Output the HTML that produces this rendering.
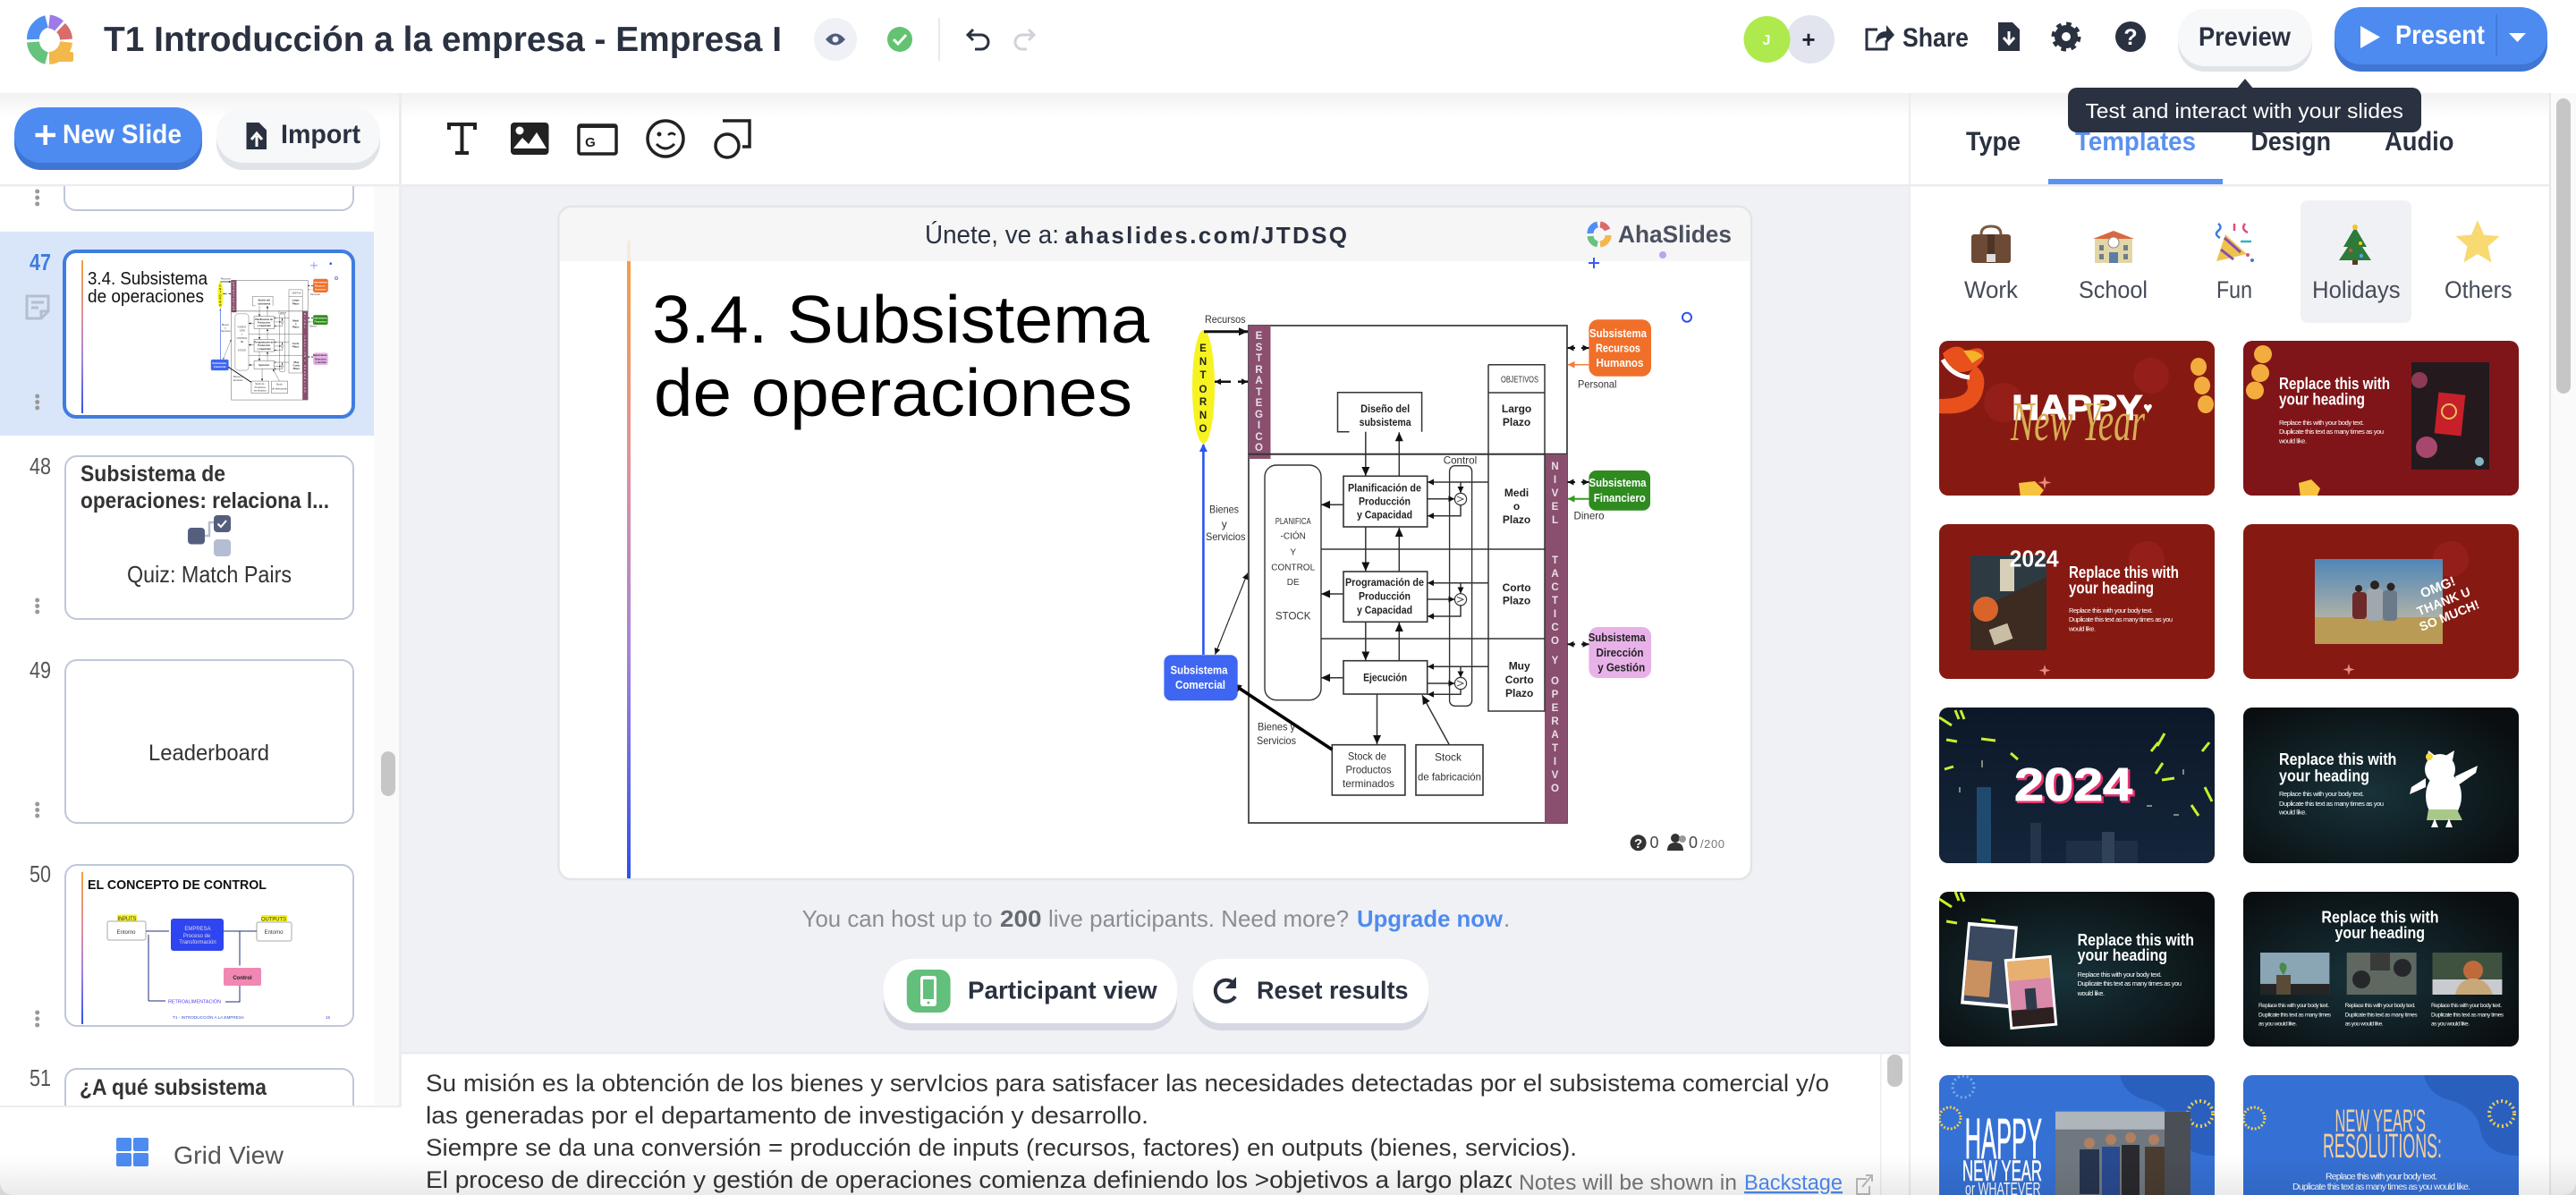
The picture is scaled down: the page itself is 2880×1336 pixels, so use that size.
<!DOCTYPE html>
<html lang="es"><head><meta charset="utf-8"><title>AhaSlides editor</title>
<style>
html,body{margin:0;padding:0;background:#fff;width:2880px;height:1336px;overflow:hidden}
svg{display:block;font-family:"Liberation Sans","DejaVu Sans",sans-serif}
.d{font-size:12px;fill:#333}
.db{font-size:12px;font-weight:bold;fill:#222;text-anchor:middle}
.dc{font-size:12px;fill:#333;text-anchor:middle}
.ds{font-size:10px;fill:#333;text-anchor:middle}
.w{font-size:13px;font-weight:bold;fill:#fff;text-anchor:middle}
.le{font-size:11.5px;font-weight:bold;fill:#e9dfe6;text-anchor:middle}
.en{font-size:11.5px;font-weight:bold;fill:#222;text-anchor:middle}
.ln{stroke:#333;stroke-width:1.5;fill:none}
.box{stroke:#333;stroke-width:1.6;fill:#fff}
.h{font-size:18px;font-weight:bold;fill:#fff}
.bd{font-size:7.5px;fill:#fff}
.nt{font-size:27px;fill:#333}
.tab{font-size:30px;font-weight:bold;fill:#2a3140}
.cat{font-size:27px;fill:#454b57}
.num{font-size:26px;fill:#555}
</style></head>
<body>
<svg xmlns="http://www.w3.org/2000/svg" width="2880" height="1336" viewBox="0 0 2880 1336">
<defs>
<marker id="a" markerUnits="userSpaceOnUse" markerWidth="10" markerHeight="10" refX="10" refY="5" orient="auto"><path d="M0,0.5L10,5L0,9.5z" fill="#111"/></marker>
<marker id="as" markerUnits="userSpaceOnUse" markerWidth="7" markerHeight="7" refX="7" refY="3.5" orient="auto"><path d="M0,0L7,3.5L0,7z" fill="#111"/></marker>
<marker id="ab" markerUnits="userSpaceOnUse" markerWidth="9" markerHeight="9" refX="8" refY="4.5" orient="auto"><path d="M0,0L9,4.5L0,9z" fill="#2a55f0"/></marker>
<marker id="ao" markerUnits="userSpaceOnUse" markerWidth="8" markerHeight="8" refX="8" refY="4" orient="auto"><path d="M0,0L8,4L0,8z" fill="#f08040"/></marker>
<marker id="ag" markerUnits="userSpaceOnUse" markerWidth="8" markerHeight="8" refX="8" refY="4" orient="auto"><path d="M0,0L8,4L0,8z" fill="#3a9a28"/></marker>
<linearGradient id="gl" x1="0" y1="0" x2="0" y2="1"><stop offset="0" stop-color="#f5a03c"/><stop offset=".35" stop-color="#e2919b"/><stop offset=".65" stop-color="#a583dc"/><stop offset="1" stop-color="#2f50ee"/></linearGradient>
<linearGradient id="hs" x1="0" y1="0" x2="0" y2="1"><stop offset="0" stop-color="#f1f1f2"/><stop offset="1" stop-color="#fff"/></linearGradient>
<linearGradient id="fd" x1="0" y1="0" x2="0" y2="1"><stop offset="0" stop-color="#000" stop-opacity="0"/><stop offset="1" stop-color="#000" stop-opacity=".08"/></linearGradient>
<linearGradient id="sky" x1="0" y1="0" x2="0" y2="1"><stop offset="0" stop-color="#4f86b8"/><stop offset="1" stop-color="#d8c4a0"/></linearGradient>
<radialGradient id="teal" cx=".45" cy=".55" r=".65"><stop offset="0" stop-color="#17333a"/><stop offset="1" stop-color="#0a0e10"/></radialGradient>
<linearGradient id="navy" x1="0" y1="0" x2="0" y2="1"><stop offset="0" stop-color="#0c1828"/><stop offset="1" stop-color="#14253a"/></linearGradient>
<clipPath id="c1"><rect x="2168" y="381" width="308" height="173" rx="10"/></clipPath>
<clipPath id="c2"><rect x="2508" y="381" width="308" height="173" rx="10"/></clipPath>
<clipPath id="c3"><rect x="2168" y="586" width="308" height="173" rx="10"/></clipPath>
<clipPath id="c4"><rect x="2508" y="586" width="308" height="173" rx="10"/></clipPath>
<clipPath id="c5"><rect x="2168" y="791" width="308" height="174" rx="10"/></clipPath>
<clipPath id="c6"><rect x="2508" y="791" width="308" height="174" rx="10"/></clipPath>
<clipPath id="c7"><rect x="2168" y="997" width="308" height="173" rx="10"/></clipPath>
<clipPath id="c8"><rect x="2508" y="997" width="308" height="173" rx="10"/></clipPath>
<clipPath id="c9"><rect x="2168" y="1202" width="308" height="173" rx="10"/></clipPath>
<clipPath id="c10"><rect x="2508" y="1202" width="308" height="173" rx="10"/></clipPath>
<clipPath id="cn"><rect x="452" y="1180" width="1238" height="156"/></clipPath>
<clipPath id="cl"><rect x="0" y="208" width="418" height="1029"/></clipPath>

<g id="diag">
<rect x="1396" y="364" width="356" height="556" fill="#fff" stroke="#444" stroke-width="1.8"/>
<rect x="1396" y="364" width="24.5" height="149" fill="#8a4f6e"/>
<line x1="1396" y1="507.7" x2="1752" y2="507.7" stroke="#333" stroke-width="2"/>
<rect x="1727" y="508" width="25" height="412" fill="#8a4f6e"/>
<ellipse cx="1345.5" cy="432.5" rx="12.5" ry="63.5" fill="#f6f320"/>
<g class="en"><text class="en" x="1345" y="393">E</text><text class="en" x="1345" y="408">N</text><text class="en" x="1345" y="423">T</text><text class="en" x="1345" y="439">O</text><text class="en" x="1345" y="453">R</text><text class="en" x="1345" y="468">N</text><text class="en" x="1345" y="483">O</text></g>
<g><text class="le" x="1407.5" y="379">E</text><text class="le" x="1407.5" y="392">S</text><text class="le" x="1407.5" y="404">T</text><text class="le" x="1407.5" y="417">R</text><text class="le" x="1407.5" y="429">A</text><text class="le" x="1407.5" y="442">T</text><text class="le" x="1407.5" y="454">E</text><text class="le" x="1407.5" y="467">G</text><text class="le" x="1407.5" y="479">I</text><text class="le" x="1407.5" y="492">C</text><text class="le" x="1407.5" y="504">O</text></g>
<g><text class="le" x="1738.5" y="525">N</text><text class="le" x="1738.5" y="540">I</text><text class="le" x="1738.5" y="555">V</text><text class="le" x="1738.5" y="570">E</text><text class="le" x="1738.5" y="585">L</text><text class="le" x="1738.5" y="630">T</text><text class="le" x="1738.5" y="645">A</text><text class="le" x="1738.5" y="660">C</text><text class="le" x="1738.5" y="675">T</text><text class="le" x="1738.5" y="690">I</text><text class="le" x="1738.5" y="705">C</text><text class="le" x="1738.5" y="720">O</text><text class="le" x="1738.5" y="742">Y</text><text class="le" x="1738.5" y="765">O</text><text class="le" x="1738.5" y="780">P</text><text class="le" x="1738.5" y="795">E</text><text class="le" x="1738.5" y="810">R</text><text class="le" x="1738.5" y="825">A</text><text class="le" x="1738.5" y="840">T</text><text class="le" x="1738.5" y="855">I</text><text class="le" x="1738.5" y="870">V</text><text class="le" x="1738.5" y="885">O</text></g>

<text class="d" x="1347" y="361" textLength="45.5" lengthAdjust="spacingAndGlyphs">Recursos</text>
<line x1="1346" y1="370.7" x2="1395" y2="370.7" stroke="#111" stroke-width="3" marker-end="url(#a)"/>
<line x1="1376" y1="426.7" x2="1358" y2="426.7" stroke="#111" stroke-width="2.5" marker-end="url(#as)"/>
<line x1="1384" y1="426.7" x2="1395" y2="426.7" stroke="#111" stroke-width="2.5" marker-end="url(#as)"/>

<path class="ln" d="M1664,407.7H1727V795H1664V407.7M1664,439H1727"/>
<text class="ds" x="1699" y="427.7" textLength="42" lengthAdjust="spacingAndGlyphs">OBJETIVOS</text>
<text class="db" x="1695.6" y="461">Largo</text><text class="db" x="1695.6" y="476">Plazo</text>
<text class="db" x="1695.6" y="555">Medi</text><text class="db" x="1695.6" y="570">o</text><text class="db" x="1695.6" y="585">Plazo</text>
<text class="db" x="1695.6" y="661">Corto</text><text class="db" x="1695.6" y="675.7">Plazo</text>
<text class="db" x="1698.7" y="748.7">Muy</text><text class="db" x="1698.7" y="764">Corto</text><text class="db" x="1698.7" y="779">Plazo</text>
<line class="ln" x1="1476.7" y1="614" x2="1727" y2="614"/><line class="ln" x1="1476.7" y1="714" x2="1727" y2="714"/>

<path class="ln" d="M1508.5,482.7H1495.5V438.7H1589.6V482.7"/>
<text class="db" x="1548.6" y="461" textLength="55" lengthAdjust="spacingAndGlyphs">Diseño del</text>
<text class="db" x="1548.6" y="476" textLength="58" lengthAdjust="spacingAndGlyphs">subsistema</text>
<line class="ln" x1="1526.8" y1="482.7" x2="1526.8" y2="532" marker-end="url(#a)"/>
<line class="ln" x1="1564.3" y1="532.3" x2="1564.3" y2="483.3" marker-end="url(#a)"/>

<rect x="1414" y="520" width="63" height="262.7" rx="13" fill="#fff" stroke="#333" stroke-width="1.4"/>
<text class="ds" x="1445.7" y="586" textLength="40" lengthAdjust="spacingAndGlyphs">PLANIFICA</text>
<text class="ds" x="1445.7" y="602.3">-CIÓN</text><text class="ds" x="1445.7" y="620.3">Y</text>
<text class="ds" x="1445.7" y="637.3">CONTROL</text><text class="ds" x="1445.7" y="654">DE</text>
<text class="dc" x="1445.7" y="692.3" style="font-size:11.5px">STOCK</text>

<rect x="1620.6" y="520.7" width="25" height="268.6" rx="6" fill="none" stroke="#333" stroke-width="1.4"/>
<text class="d" x="1613.7" y="518.7" textLength="37.5" lengthAdjust="spacingAndGlyphs">Control</text>

<rect class="box" x="1502" y="532.3" width="93.7" height="56.7"/>
<text class="db" x="1548" y="549.3" textLength="82" lengthAdjust="spacingAndGlyphs">Planificación de</text>
<text class="db" x="1548" y="564.7" textLength="58" lengthAdjust="spacingAndGlyphs">Producción</text>
<text class="db" x="1548" y="579.7" textLength="62" lengthAdjust="spacingAndGlyphs">y Capacidad</text>
<rect class="box" x="1502" y="639" width="93.7" height="56.3"/>
<text class="db" x="1548" y="655" textLength="88" lengthAdjust="spacingAndGlyphs">Programación de</text>
<text class="db" x="1548" y="670.7" textLength="58" lengthAdjust="spacingAndGlyphs">Producción</text>
<text class="db" x="1548" y="686" textLength="62" lengthAdjust="spacingAndGlyphs">y Capacidad</text>
<rect class="box" x="1502" y="738.7" width="93.7" height="37.3"/>
<text class="db" x="1548.6" y="761.3" textLength="49" lengthAdjust="spacingAndGlyphs">Ejecución</text>

<line class="ln" x1="1502" y1="564.3" x2="1477" y2="564.3" marker-end="url(#a)"/>
<line class="ln" x1="1502" y1="664" x2="1477" y2="664" marker-end="url(#a)"/>
<line class="ln" x1="1502" y1="757.7" x2="1477" y2="757.7" marker-end="url(#a)"/>
<line class="ln" x1="1526.8" y1="589" x2="1526.8" y2="638.5" marker-end="url(#a)"/>
<line class="ln" x1="1564.3" y1="639" x2="1564.3" y2="590" marker-end="url(#a)"/>
<line class="ln" x1="1526.8" y1="695.3" x2="1526.8" y2="738.3" marker-end="url(#a)"/>
<line class="ln" x1="1564.3" y1="738.7" x2="1564.3" y2="696" marker-end="url(#a)"/>

<line class="ln" x1="1664" y1="539" x2="1596" y2="539" marker-end="url(#as)"/>
<line class="ln" x1="1633" y1="539" x2="1633" y2="551" marker-end="url(#as)"/>
<line class="ln" x1="1596" y1="557.7" x2="1626.3" y2="557.7" marker-end="url(#as)"/>
<path class="ln" d="M1633,564.6V576.7H1603"/><line class="ln" x1="1604" y1="576.7" x2="1596" y2="576.7" marker-end="url(#as)"/>
<circle cx="1633" cy="558" r="6.6" fill="#fff" stroke="#333" stroke-width="1.2"/><path d="M1629,555l7,3l-7,3" fill="none" stroke="#333" stroke-width=".9"/>
<line class="ln" x1="1664" y1="651.7" x2="1596" y2="651.7" marker-end="url(#as)"/>
<line class="ln" x1="1633" y1="651.7" x2="1633" y2="663.5" marker-end="url(#as)"/>
<line class="ln" x1="1596" y1="670" x2="1626.3" y2="670" marker-end="url(#as)"/>
<path class="ln" d="M1633,677V689H1603"/><line class="ln" x1="1604" y1="689" x2="1596" y2="689" marker-end="url(#as)"/>
<circle cx="1633" cy="670.3" r="6.6" fill="#fff" stroke="#333" stroke-width="1.2"/><path d="M1629,667.3l7,3l-7,3" fill="none" stroke="#333" stroke-width=".9"/>
<line class="ln" x1="1664" y1="745.3" x2="1596" y2="745.3" marker-end="url(#as)"/>
<line class="ln" x1="1633" y1="745.3" x2="1633" y2="757.5" marker-end="url(#as)"/>
<line class="ln" x1="1596" y1="764" x2="1626.3" y2="764" marker-end="url(#as)"/>
<path class="ln" d="M1633,770.6V776.3H1603"/><line class="ln" x1="1604" y1="776.3" x2="1596" y2="776.3" marker-end="url(#as)"/>
<circle cx="1633" cy="764" r="6.6" fill="#fff" stroke="#333" stroke-width="1.2"/><path d="M1629,761l7,3l-7,3" fill="none" stroke="#333" stroke-width=".9"/>

<line class="ln" x1="1539.5" y1="776" x2="1539.5" y2="832" marker-end="url(#a)"/>
<line class="ln" x1="1620" y1="832" x2="1590" y2="777.3" marker-end="url(#a)"/>
<rect class="box" x="1489.3" y="832.7" width="81.6" height="56.3"/>
<text class="dc" x="1528.4" y="849.3" textLength="43" lengthAdjust="spacingAndGlyphs">Stock de</text>
<text class="dc" x="1530" y="864.7" textLength="51" lengthAdjust="spacingAndGlyphs">Productos</text>
<text class="dc" x="1530" y="880" textLength="58" lengthAdjust="spacingAndGlyphs">terminados</text>
<rect class="box" x="1583" y="832.7" width="75" height="56.3"/>
<text class="dc" x="1619" y="850.7">Stock</text>
<text class="dc" x="1620.5" y="872.7" textLength="71" lengthAdjust="spacingAndGlyphs">de fabricación</text>
<text class="d" x="1406" y="816.7" textLength="42" lengthAdjust="spacingAndGlyphs">Bienes y</text>
<text class="d" x="1405" y="832" textLength="44" lengthAdjust="spacingAndGlyphs">Servicios</text>
<line x1="1489.3" y1="838" x2="1378" y2="764.5" stroke="#000" stroke-width="3.6" marker-end="url(#a)"/>

<text class="d" x="1352" y="573.7" textLength="33" lengthAdjust="spacingAndGlyphs">Bienes</text>
<text class="dc" x="1368.8" y="590">y</text>
<text class="d" x="1348" y="604" textLength="44.5" lengthAdjust="spacingAndGlyphs">Servicios</text>
<line x1="1345.4" y1="732" x2="1345.4" y2="497" stroke="#2a55f0" stroke-width="2.6" marker-end="url(#ab)"/>
<line x1="1358.5" y1="731.7" x2="1394.8" y2="640.7" stroke="#222" stroke-width="1.1" stroke-dasharray="4 2.5" marker-end="url(#as)"/>
<line x1="1394.8" y1="640.7" x2="1358.5" y2="731.7" stroke="#222" stroke-width="1.1" stroke-dasharray="4 2.5" marker-end="url(#as)"/>
<rect x="1301.4" y="732.3" width="82.3" height="51" rx="8" fill="#3e66f2"/>
<text class="w" x="1340.5" y="753.3" textLength="64" lengthAdjust="spacingAndGlyphs">Subsistema</text>
<text class="w" x="1342" y="770" textLength="56" lengthAdjust="spacingAndGlyphs">Comercial</text>

<rect x="1776.4" y="357.3" width="69.6" height="63.4" rx="10" fill="#f0702a"/>
<text class="w" x="1809" y="377" textLength="64" lengthAdjust="spacingAndGlyphs">Subsistema</text>
<text class="w" x="1809" y="393.7" textLength="50" lengthAdjust="spacingAndGlyphs">Recursos</text>
<text class="w" x="1811" y="410" textLength="53" lengthAdjust="spacingAndGlyphs">Humanos</text>
<line x1="1761" y1="389" x2="1752.6" y2="389" stroke="#111" stroke-width="2" marker-end="url(#as)"/><line x1="1768" y1="389" x2="1776.4" y2="389" stroke="#111" stroke-width="2" marker-end="url(#as)"/>
<line x1="1776.4" y1="407.7" x2="1752.6" y2="407.7" stroke="#f08040" stroke-width="1.5" marker-end="url(#ao)"/>
<text class="d" x="1764" y="433.3" textLength="43.4" lengthAdjust="spacingAndGlyphs">Personal</text>
<rect x="1776.4" y="526" width="68.6" height="44.7" rx="8" fill="#2f8b1f"/>
<text class="w" x="1808.5" y="544" textLength="64" lengthAdjust="spacingAndGlyphs">Subsistema</text>
<text class="w" x="1810.8" y="561" textLength="58" lengthAdjust="spacingAndGlyphs">Financiero</text>
<line x1="1761" y1="539" x2="1752.6" y2="539" stroke="#111" stroke-width="2" marker-end="url(#as)"/><line x1="1768" y1="539" x2="1776.4" y2="539" stroke="#111" stroke-width="2" marker-end="url(#as)"/>
<line x1="1776.4" y1="557.7" x2="1752.6" y2="557.7" stroke="#3a9a28" stroke-width="2" marker-end="url(#ag)"/>
<text class="d" x="1759.5" y="580.3" textLength="34" lengthAdjust="spacingAndGlyphs">Dinero</text>
<rect x="1776.4" y="701" width="69.6" height="57" rx="10" fill="#e8b2e8"/>
<text class="w" x="1807.7" y="717" style="fill:#222" textLength="64" lengthAdjust="spacingAndGlyphs">Subsistema</text>
<text class="w" x="1811" y="734" style="fill:#222" textLength="53" lengthAdjust="spacingAndGlyphs">Dirección</text>
<text class="w" x="1812.7" y="750.3" style="fill:#222" textLength="53" lengthAdjust="spacingAndGlyphs">y Gestión</text>
<line x1="1761" y1="720.3" x2="1752.6" y2="720.3" stroke="#111" stroke-width="2" marker-end="url(#as)"/><line x1="1768" y1="720.3" x2="1776.4" y2="720.3" stroke="#111" stroke-width="2" marker-end="url(#as)"/>
</g>
</defs>

<!-- base panels -->
<rect width="2880" height="1336" fill="#fff"/>
<rect x="448" y="208" width="1687" height="968" fill="#f0f1f5"/>
<rect x="418" y="208" width="28" height="1030" fill="#fafafa"/>
<rect x="2852" y="104" width="28" height="1232" fill="#fafafa"/>
<rect x="0" y="104" width="2850" height="28" fill="url(#hs)"/>
<rect x="446" y="104" width="3" height="1134" fill="#ebecef"/>
<rect x="2134" y="104" width="2" height="1232" fill="#ebecef"/>
<rect x="2850" y="104" width="2" height="1232" fill="#e6e7ea"/>
<rect x="0" y="206" width="2850" height="2.5" fill="#ebecef"/>

<!-- header -->
<g fill="none" stroke-width="14">
<path d="M37,44A20,20 0 0 1 52,24" stroke="#4f8ef2"/>
<path d="M55,24A20,20 0 0 1 66,29" stroke="#9c7be9" stroke-width="15"/>
<path d="M68,31A20,20 0 0 1 74,44" stroke="#d96b6b"/>
<path d="M37,47A20,20 0 0 0 52,65" stroke="#67c27e"/>
<path d="M55,65A20,20 0 0 0 74,47" stroke="#f2b84c"/>
</g>
<rect x="55" y="58" width="27" height="11" rx="2" fill="#f2b84c"/>
<text x="116" y="57" font-size="39" font-weight="bold" fill="#2a3140" textLength="758" lengthAdjust="spacingAndGlyphs">T1 Introducción a la empresa - Empresa I</text>
<circle cx="934" cy="44" r="24" fill="#eff1f6"/>
<path d="M923,44q11,-13 22,0q-11,13 -22,0z" fill="#4f5b7c"/><circle cx="934" cy="44" r="3.5" fill="#eff1f6"/>
<circle cx="1006" cy="44" r="14" fill="#62c370"/><path d="M999,44l5,5l9,-10" fill="none" stroke="#fff" stroke-width="3"/>
<rect x="1049" y="20" width="2" height="48" fill="#e8e9ec"/>
<path d="M1082,39h15a8,8 0 0 1 0,16h-7M1088,33l-6,6l6,6" fill="none" stroke="#2a3140" stroke-width="3"/>
<path d="M1156,39h-13a8,8 0 0 0 0,16h5M1150,33l6,6l-6,6" fill="none" stroke="#cfd2d8" stroke-width="3"/>
<circle cx="2024" cy="44" r="27" fill="#e2e5ed"/>
<circle cx="1975.5" cy="44" r="26" fill="#aeea4e"/>
<text x="1975" y="50" font-size="16" font-weight="bold" fill="#fff" text-anchor="middle">J</text>
<text x="2022" y="53" font-size="26" font-weight="bold" fill="#1e2430" text-anchor="middle">+</text>
<path d="M2099,33h-12v22h22v-10" fill="none" stroke="#2a3140" stroke-width="3"/><path d="M2097,49q0,-14 12,-14v-7l9,11l-9,10v-7q-8,0 -12,7z" fill="#2a3140"/>
<text x="2127" y="52" font-size="30" font-weight="bold" fill="#2a3140" textLength="74" lengthAdjust="spacingAndGlyphs">Share</text>
<path d="M2234,25h16l8,8v24h-24z" fill="#2a3140"/><path d="M2246,35v12M2240,42l6,7l6,-7" stroke="#fff" stroke-width="3" fill="none"/>
<circle cx="2310" cy="41" r="9" fill="none" stroke="#2a3140" stroke-width="8"/><circle cx="2310" cy="41" r="14" fill="none" stroke="#2a3140" stroke-width="5" stroke-dasharray="5.500 5.500"/>
<circle cx="2382" cy="41" r="17" fill="#2a3140"/><text x="2382" y="50" font-size="25" font-weight="bold" fill="#fff" text-anchor="middle">?</text>
<rect x="2435" y="16" width="150" height="64" rx="30" fill="#e0e3e8"/><rect x="2435" y="10" width="150" height="64" rx="30" fill="#f7f8fa"/>
<text x="2458" y="51" font-size="30" font-weight="bold" fill="#2a3140" textLength="103" lengthAdjust="spacingAndGlyphs">Preview</text>
<rect x="2610" y="14" width="238" height="66" rx="30" fill="#3f76d3"/><rect x="2610" y="8" width="238" height="64" rx="30" fill="#4e8bf0"/>
<path d="M2639,29L2661,41.5L2639,54z" fill="#fff"/>
<text x="2678" y="49" font-size="30" font-weight="bold" fill="#fff" textLength="100" lengthAdjust="spacingAndGlyphs">Present</text>
<rect x="2790.5" y="16" width="1.5" height="47" fill="#3f76d3"/>
<path d="M2805,37h19l-9.5,10z" fill="#fff"/>

<!-- tabs -->
<text class="tab" x="2198" y="168" textLength="61" lengthAdjust="spacingAndGlyphs">Type</text>
<text class="tab" x="2320" y="168" style="fill:#5b91ef" textLength="135" lengthAdjust="spacingAndGlyphs">Templates</text>
<text class="tab" x="2516.5" y="168" textLength="89.5" lengthAdjust="spacingAndGlyphs">Design</text>
<text class="tab" x="2666" y="168" textLength="77.5" lengthAdjust="spacingAndGlyphs">Audio</text>
<rect x="2290" y="200" width="195" height="6" fill="#5b91ef"/>
<!-- tooltip -->
<path d="M2500,100L2510,88L2520,100z" fill="#2a3140"/>
<rect x="2312" y="98" width="395" height="50" rx="10" fill="#2a3140"/>
<text x="2331.5" y="132" font-size="23" fill="#fff" textLength="355.5" lengthAdjust="spacingAndGlyphs">Test and interact with your slides</text>
<rect x="2858" y="110" width="16" height="330" rx="8" fill="#c6c6c6"/>

<!-- categories -->
<rect x="2572" y="224" width="124" height="137" rx="8" fill="#f0f1f5"/>
<path d="M2215,262q0,-9 11,-9t11,9" fill="none" stroke="#7a5a44" stroke-width="3"/>
<rect x="2204" y="262" width="44" height="32" rx="3" fill="#6d4a36"/><rect x="2222" y="262" width="8" height="32" fill="#4f3425"/><rect x="2221" y="284" width="10" height="9" fill="#ddd"/>
<rect x="2342" y="266" width="42" height="28" fill="#e3d6a6"/><path d="M2340,267L2363,258L2386,267z" fill="#d9683f"/><circle cx="2363" cy="271" r="6" fill="#fff" stroke="#888"/><rect x="2358" y="282" width="10" height="12" fill="#5a7ea8"/><g fill="#6c7f8c"><rect x="2347" y="274" width="5" height="6"/><rect x="2374" y="274" width="5" height="6"/><rect x="2347" y="284" width="5" height="6"/><rect x="2374" y="284" width="5" height="6"/></g>
<path d="M2478,292L2488,262L2512,284z" fill="#eec34a"/><path d="M2483,279l14,11M2487,266l18,16" stroke="#8a4db0" stroke-width="3"/>
<g fill="none" stroke-width="2.5"><path d="M2480,250q5,4 0,8t2,8" stroke="#3a7fd8"/><path d="M2510,250q-5,6 3,10" stroke="#dd4f7a"/><path d="M2498,250v8" stroke="#dd4f7a"/><path d="M2505,270h12" stroke="#3ab0c0"/></g>
<circle cx="2513" cy="285" r="2" fill="#dd4f7a"/><circle cx="2518" cy="291" r="2" fill="#3a7fd8"/>
<path d="M2633,254L2646,276H2641L2651,291H2615L2625,276H2620z" fill="#2d7a3a"/><rect x="2630" y="291" width="6" height="5" fill="#5a3a22"/><circle cx="2633" cy="254" r="3" fill="#f2c230"/><circle cx="2628" cy="280" r="2" fill="#e44"/><circle cx="2639" cy="272" r="2" fill="#fc0"/><circle cx="2640" cy="286" r="2" fill="#5af"/>
<path d="M2770,251l7,16.5l17.5,1.500l-13,11.500l4,18l-15.500,-9.500l-15.500,9.500l4,-18l-13,-11.500l17.500,-1.500z" fill="#f9da72" transform="translate(0,-5)"/>
<text class="cat" x="2196" y="333" textLength="60" lengthAdjust="spacingAndGlyphs">Work</text>
<text class="cat" x="2324" y="333" textLength="77" lengthAdjust="spacingAndGlyphs">School</text>
<text class="cat" x="2478" y="333" textLength="40" lengthAdjust="spacingAndGlyphs">Fun</text>
<text class="cat" x="2585" y="333" textLength="98.6" lengthAdjust="spacingAndGlyphs">Holidays</text>
<text class="cat" x="2733" y="333" textLength="75.6" lengthAdjust="spacingAndGlyphs">Others</text>

<!-- template cards -->
<g clip-path="url(#c1)"><rect x="2168" y="381" width="308" height="173" fill="#861a12"/>
<circle cx="2240" cy="450" r="22" fill="#931f18"/><circle cx="2405" cy="420" r="20" fill="#931f18"/>
<path d="M2168,462q46,4 50,-30q2,-14 -8,-22q-14,8 -10,22q0,14 -32,14z" fill="#e8501c"/><path d="M2172,395q16,-14 26,-2q22,-10 20,8q-8,12 -18,14q-14,4 -24,-8z" fill="#e8501c"/><path d="M2172,402q10,18 30,20" stroke="#fff" stroke-width="5" fill="none"/><path d="M2195,392q14,-2 22,6l-12,8z" fill="#f5b32a"/>
<g fill="#f2ad3e"><ellipse cx="2458" cy="410" rx="9" ry="10"/><ellipse cx="2462" cy="431" rx="9" ry="10"/><ellipse cx="2466" cy="452" rx="9" ry="10"/></g>
<text x="2249.5" y="469" font-size="39" font-weight="bold" fill="#fff" textLength="145.5" lengthAdjust="spacingAndGlyphs" stroke="#fff" stroke-width="1.5">HAPPY</text>
<text x="2248" y="492" font-family="Liberation Serif" font-style="italic" font-size="62" fill="#d8ae55" textLength="150" lengthAdjust="spacingAndGlyphs">New Year</text>
<text x="2396" y="462" font-size="18" fill="#fff">♥</text>
<path d="M2257,540l18,-2l10,10l-6,8h-20z" fill="#f7c23e"/><path d="M2286,532l1.5,6l6,1.500l-6,1.500l-1.5,6l-1.5,-6l-6,-1.500l6,-1.500z" fill="#e98a80"/></g>

<g clip-path="url(#c2)"><rect x="2508" y="381" width="308" height="173" fill="#7f1519"/>
<g fill="#f2ad3e"><ellipse cx="2530" cy="396" rx="10" ry="10"/><ellipse cx="2527" cy="417" rx="10" ry="10"/><ellipse cx="2521" cy="436.5" rx="10" ry="10"/></g>
<text class="h" x="2548" y="435" textLength="124" lengthAdjust="spacingAndGlyphs">Replace this with</text><text class="h" x="2548" y="452.6" textLength="96" lengthAdjust="spacingAndGlyphs">your heading</text>
<text class="bd" x="2548" y="475" textLength="95">Replace this with your body text.</text><text class="bd" x="2548" y="485" textLength="117">Duplicate this text as many times as you</text><text class="bd" x="2548" y="495.5" textLength="31">would like.</text>
<rect x="2696" y="405" width="87" height="120" fill="#241a1e"/><circle cx="2705" cy="425" r="9" fill="#8d3a55"/><circle cx="2713" cy="500" r="12" fill="#a8476e"/><circle cx="2772" cy="516" r="5" fill="#7fb8c4"/>
<rect x="2724" y="440" width="30" height="46" fill="#c8202a" transform="rotate(6 2739 463)"/><circle cx="2738" cy="460" r="8" fill="none" stroke="#e8c060" stroke-width="2"/>
<path d="M2570,540l14,-4l10,10l-4,10h-18z" fill="#f7c23e"/></g>

<g clip-path="url(#c3)"><rect x="2168" y="586" width="308" height="173" fill="#861a12"/><circle cx="2400" cy="625" r="20" fill="#931f18"/>
<rect x="2203" y="621" width="85" height="106" fill="#2e3a42"/><path d="M2203,685l85,-40v82h-85z" fill="#3d2a20"/><circle cx="2220" cy="681" r="14" fill="#d9642a"/><rect x="2236" y="625" width="16" height="36" fill="#d8cfb8"/><rect x="2226" y="700" width="22" height="18" fill="#c9bda6" transform="rotate(-20 2237 709)"/>
<text x="2246.6" y="633.6" font-size="26" font-weight="bold" fill="#fff" textLength="55" lengthAdjust="spacingAndGlyphs">2024</text>
<text class="h" x="2313" y="646" textLength="123" lengthAdjust="spacingAndGlyphs">Replace this with</text><text class="h" x="2313" y="663.5" textLength="95" lengthAdjust="spacingAndGlyphs">your heading</text>
<text class="bd" x="2313" y="685" textLength="94">Replace this with your body text.</text><text class="bd" x="2313" y="695" textLength="116">Duplicate this text as many times as you</text><text class="bd" x="2313" y="705.6" textLength="30">would like.</text>
<path d="M2286,743l1.5,5l5,1.500l-5,1.500l-1.5,5l-1.5,-5l-5,-1.500l5,-1.500z" fill="#e98a80"/></g>

<g clip-path="url(#c4)"><rect x="2508" y="586" width="308" height="173" fill="#861a12"/><circle cx="2740" cy="625" r="20" fill="#931f18"/>
<rect x="2588" y="625" width="143" height="95" fill="url(#sky)"/><rect x="2588" y="690" width="143" height="30" fill="#b99b55"/>
<rect x="2630" y="662" width="16" height="30" rx="4" fill="#6e2a2a"/><rect x="2646" y="658" width="18" height="36" rx="4" fill="#a0a8ad"/><rect x="2664" y="660" width="16" height="34" rx="4" fill="#6a7a88"/><circle cx="2637" cy="658" r="4" fill="#2a2320"/><circle cx="2655" cy="654" r="5" fill="#2a2320"/><circle cx="2673" cy="656" r="4.5" fill="#2a2320"/>
<g transform="rotate(-22 2733 675)" fill="#fff" font-weight="bold" text-anchor="middle"><text x="2733" y="660" font-size="15">OMG!</text><text x="2733" y="677" font-size="14">THANK U</text><text x="2733" y="694" font-size="14">SO MUCH!</text></g>
<path d="M2626,742l1.5,5l5,1.500l-5,1.500l-1.5,5l-1.5,-5l-5,-1.500l5,-1.500z" fill="#e98a80"/></g>

<g clip-path="url(#c5)"><rect x="2168" y="791" width="308" height="174" fill="url(#navy)"/>
<g stroke="#c9f02c" stroke-width="3"><path d="M2168,802l14,9M2186,794l4,10M2196,804l-4,-10M2188,829l-12,-2M2215,826l16,2M2174,860l10,-3M2248,842l8,7M2405,840l8,-10M2410,865l8,-12M2420,820l-8,14M2470,830l-8,10M2450,900l8,12M2465,880l8,16M2417,872l14,-2"/></g>
<g fill="#e8dcc0" opacity=".55"><rect x="2215" y="850" width="2" height="8"/><rect x="2190" y="880" width="2" height="6"/><rect x="2440" y="860" width="2" height="6"/><rect x="2400" y="900" width="6" height="2"/><rect x="2430" y="910" width="6" height="2"/></g>
<rect x="2210" y="880" width="16" height="85" fill="#1f4a6e"/><rect x="2270" y="920" width="12" height="45" fill="#24354a"/><rect x="2310" y="940" width="80" height="25" fill="#1f3044"/><rect x="2350" y="930" width="14" height="35" fill="#2f4258"/>
<text x="2254" y="897" font-size="52" font-weight="bold" fill="#e8336f" textLength="132" lengthAdjust="spacingAndGlyphs" stroke="#e8336f" stroke-width="2">2024</text>
<text x="2252" y="895" font-size="52" font-weight="bold" fill="#fff" textLength="132" lengthAdjust="spacingAndGlyphs" stroke="#fff" stroke-width="1">2024</text></g>

<g clip-path="url(#c6)"><rect x="2508" y="791" width="308" height="174" fill="url(#teal)"/>
<text class="h" x="2548" y="855" textLength="131.4" lengthAdjust="spacingAndGlyphs">Replace this with</text><text class="h" x="2548" y="873.6" textLength="101" lengthAdjust="spacingAndGlyphs">your heading</text>
<text class="bd" x="2548" y="890" textLength="95">Replace this with your body text.</text><text class="bd" x="2548" y="900.8" textLength="117">Duplicate this text as many times as you</text><text class="bd" x="2548" y="910.7" textLength="31">would like.</text>
<ellipse cx="2732" cy="890" rx="20" ry="27" fill="#fff"/><circle cx="2728" cy="860" r="17" fill="#fff"/><path d="M2713,850l2,-11l9,7zM2742,850l2,-11l-10,6z" fill="#fff"/><path d="M2745,868l25,-12l-2,8l-20,14zM2712,880l-18,8l2,-8l16,-10z" fill="#fff"/><path d="M2715,905h32l6,12h-40z" fill="#a8c888"/><path d="M2722,915l-4,10h8zM2738,915l4,10h-8z" fill="#fff"/><circle cx="2716" cy="846" r="4" fill="#f7d83e"/></g>

<g clip-path="url(#c7)"><rect x="2168" y="997" width="308" height="173" fill="url(#teal)"/>
<g stroke="#c9f02c" stroke-width="3"><path d="M2168,1005l14,9M2186,997l4,10M2196,1008l-4,-10M2188,1032l-12,-2M2215,1028l16,2"/></g>
<g transform="rotate(5 2224 1079)"><rect x="2196" y="1033" width="56" height="92" fill="#fff"/><rect x="2199" y="1037" width="50" height="84" fill="#3a4860"/><rect x="2199" y="1075" width="28" height="40" fill="#c99060"/></g>
<g transform="rotate(-5 2270 1110)"><rect x="2244" y="1070" width="53" height="79" fill="#fff"/><rect x="2247" y="1073" width="47" height="73" fill="#d88aa8"/><rect x="2247" y="1073" width="47" height="22" fill="#e8b070"/><rect x="2247" y="1128" width="47" height="18" fill="#2c2020"/><rect x="2264" y="1105" width="12" height="24" fill="#2c3a4c"/></g>
<text class="h" x="2322.6" y="1057" textLength="130.4" lengthAdjust="spacingAndGlyphs">Replace this with</text><text class="h" x="2322.6" y="1074" textLength="100.4" lengthAdjust="spacingAndGlyphs">your heading</text>
<text class="bd" x="2322.6" y="1092" textLength="94.4">Replace this with your body text.</text><text class="bd" x="2322.6" y="1102" textLength="116.4">Duplicate this text as many times as you</text><text class="bd" x="2322.6" y="1113" textLength="30.4">would like.</text></g>

<g clip-path="url(#c8)"><rect x="2508" y="997" width="308" height="173" fill="url(#teal)"/>
<text class="h" x="2595.4" y="1031.7" textLength="131.2" lengthAdjust="spacingAndGlyphs">Replace this with</text><text class="h" x="2610.5" y="1049" textLength="100.5" lengthAdjust="spacingAndGlyphs">your heading</text>
<rect x="2527" y="1065" width="77.4" height="47" fill="#8aa6b4"/><rect x="2527" y="1100" width="77.4" height="12" fill="#252525"/><rect x="2545" y="1090" width="16" height="22" fill="#5a4a38"/><path d="M2553,1090q-8,-10 -2,-14q10,2 2,14z" fill="#4a8a4a"/>
<rect x="2623.7" y="1065" width="77.9" height="47" fill="#5e6860"/><circle cx="2640" cy="1095" r="10" fill="#25282a"/><circle cx="2686" cy="1082" r="10" fill="#25282a"/><rect x="2650" y="1065" width="22" height="20" fill="#3a3a3a"/>
<rect x="2719.5" y="1065" width="77.9" height="47" fill="#3f5240"/><rect x="2719.5" y="1095" width="77.9" height="17" fill="#c8ccd0"/><circle cx="2765" cy="1085" r="11" fill="#c06a3c"/><path d="M2745,1112q4,-18 20,-18q16,0 22,18z" fill="#c8a878"/>
<g font-size="6.5" fill="#fff"><text x="2525" y="1126" textLength="79">Replace this with your body text.</text><text x="2525" y="1136.7" textLength="81">Duplicate this text as many times</text><text x="2525" y="1146.7" textLength="43">as you would like.</text>
<text x="2621.6" y="1126" textLength="79">Replace this with your body text.</text><text x="2621.6" y="1136.7" textLength="81">Duplicate this text as many times</text><text x="2621.6" y="1146.7" textLength="43">as you would like.</text>
<text x="2718" y="1126" textLength="79">Replace this with your body text.</text><text x="2718" y="1136.7" textLength="81">Duplicate this text as many times</text><text x="2718" y="1146.7" textLength="43">as you would like.</text></g></g>

<g clip-path="url(#c9)"><rect x="2168" y="1202" width="308" height="173" fill="#3570d4"/>
<path d="M2370,1202h106v90q-40,0 -44,-34q-6,-22 -40,-30q-18,-8 -22,-26z" fill="#2a5fbe"/>
<circle cx="2180" cy="1250" r="12" fill="none" stroke="#f2d050" stroke-width="3" stroke-dasharray="2 2"/><circle cx="2460" cy="1245" r="14" fill="none" stroke="#f2d050" stroke-width="4" stroke-dasharray="2 3"/><circle cx="2195" cy="1215" r="12" fill="none" stroke="#7ea8e8" stroke-width="3" stroke-dasharray="2 3"/>
<text x="2196.6" y="1295" font-size="64" fill="#fff" stroke="#fff" stroke-width=".8" textLength="86.4" lengthAdjust="spacingAndGlyphs">HAPPY</text>
<text x="2194" y="1320" font-size="32" fill="#fff" stroke="#fff" stroke-width=".6" textLength="89" lengthAdjust="spacingAndGlyphs">NEW YEAR</text>
<text x="2197" y="1336" font-size="20" fill="#fff" textLength="84.6" lengthAdjust="spacingAndGlyphs">or WHATEVER</text>
<rect x="2298" y="1242.7" width="151" height="100" fill="#6f7880"/><rect x="2298" y="1242.7" width="151" height="20" fill="#aeb6bc"/><rect x="2420" y="1242.7" width="29" height="100" fill="#4a4e55"/><g fill="#26344e"><rect x="2325" y="1285" width="22" height="50"/><rect x="2372" y="1280" width="20" height="56" fill="#2a2a2e"/><rect x="2398" y="1282" width="22" height="54" fill="#4a3d30"/><rect x="2350" y="1282" width="20" height="54" fill="#2a4a90"/></g><circle cx="2336" cy="1278" r="6" fill="#b08060"/><circle cx="2360" cy="1274" r="6" fill="#b08060"/><circle cx="2382" cy="1272" r="6" fill="#b08060"/><circle cx="2408" cy="1274" r="6" fill="#b08060"/></g>

<g clip-path="url(#c10)"><rect x="2508" y="1202" width="308" height="173" fill="#3570d4"/>
<path d="M2710,1202h106v90q-40,0 -44,-34q-6,-22 -40,-30q-18,-8 -22,-26z" fill="#2a5fbe"/>
<circle cx="2520" cy="1250" r="12" fill="none" stroke="#f2d050" stroke-width="3" stroke-dasharray="2 2"/><circle cx="2797" cy="1245" r="14" fill="none" stroke="#f2d050" stroke-width="4" stroke-dasharray="2 3"/>
<text x="2610.5" y="1265" font-size="35" fill="#f4cf9b" textLength="101.5" lengthAdjust="spacingAndGlyphs">NEW YEAR'S</text>
<text x="2597" y="1294" font-size="38" fill="#f4cf9b" textLength="133" lengthAdjust="spacingAndGlyphs">RESOLUTIONS:</text>
<text x="2600" y="1318.7" font-size="10.5" fill="#fff" textLength="125">Replace this with your body text.</text>
<text x="2563" y="1330" font-size="10.5" fill="#fff" textLength="199">Duplicate this text as many times as you would like.</text></g>

<!-- toolbar left -->
<rect x="16" y="126" width="210" height="64" rx="30" fill="#3f76d3"/><rect x="16" y="120" width="210" height="62" rx="30" fill="#4e8bf0"/>
<path d="M39.5,151H62M50.7,140V162" stroke="#fff" stroke-width="4.5"/>
<text x="70" y="160" font-size="30" font-weight="bold" fill="#fff" textLength="133" lengthAdjust="spacingAndGlyphs">New Slide</text>
<rect x="242" y="126" width="183" height="64" rx="30" fill="#e0e3e8"/><rect x="242" y="120" width="183" height="62" rx="30" fill="#f7f8fa"/>
<path d="M275.5,137h14l8.5,8.5v21.5h-22.5z" fill="#2a3140"/><path d="M287,164v-12M281,156l6,-7l6,7" stroke="#fff" stroke-width="3" fill="none"/>
<text x="314" y="160" font-size="30" font-weight="bold" fill="#2a3140" textLength="89" lengthAdjust="spacingAndGlyphs">Import</text>

<!-- editor tools -->
<path d="M502,145v-6h29v6M516.5,139v31M509,171h15" fill="none" stroke="#222" stroke-width="4"/>
<rect x="571" y="137" width="42.5" height="36" rx="4" fill="#222"/><path d="M574,166l10,-12l7,7l9,-13l11,18z" fill="#fff"/><circle cx="581" cy="146" r="4.5" fill="#fff"/>
<rect x="647" y="140" width="42" height="32" rx="2" fill="none" stroke="#222" stroke-width="3.5"/><rect x="647" y="140" width="42" height="3" fill="#222"/><text x="660" y="164" font-size="15" font-weight="bold" fill="#222" text-anchor="middle">G</text>
<circle cx="744" cy="155" r="20" fill="none" stroke="#222" stroke-width="3.5"/><circle cx="737" cy="150" r="2.5" fill="#222"/><path d="M747,151q4,-4 8,0" fill="none" stroke="#222" stroke-width="2.5"/><path d="M734,161q10,10 20,0" fill="none" stroke="#222" stroke-width="3"/>
<path d="M808,135h30v29h-8" fill="none" stroke="#222" stroke-width="3.5"/><circle cx="813" cy="163" r="13" fill="#fff" stroke="#222" stroke-width="3.5"/>

<!-- slide list -->
<g clip-path="url(#cl)">
<rect x="72" y="190" width="323" height="45" rx="13" fill="#fff" stroke="#c0c7da" stroke-width="2"/>
<g fill="#999"><circle cx="41.7" cy="214" r="2.5"/><circle cx="41.7" cy="221" r="2.5"/><circle cx="41.7" cy="228" r="2.5"/></g>
<rect x="0" y="259" width="418" height="228" fill="#d9e6fa"/>
<text x="33" y="302" font-size="26" font-weight="bold" fill="#3f7de0" textLength="24" lengthAdjust="spacingAndGlyphs">47</text>
<path d="M30,331h24v17l-8,8h-16z" fill="none" stroke="#b6bdcf" stroke-width="3"/><path d="M35,338h14M35,344h8M46,356v-8h8" fill="none" stroke="#b6bdcf" stroke-width="3"/>
<g fill="#999"><circle cx="41.7" cy="443" r="2.5"/><circle cx="41.7" cy="449.5" r="2.5"/><circle cx="41.7" cy="456" r="2.5"/></g>
<rect x="72" y="281" width="323" height="185" rx="13" fill="#fff" stroke="#3f7de0" stroke-width="4"/>
<rect x="91" y="291" width="2" height="171" fill="url(#gl)"/>
<text x="98" y="318" font-size="20" fill="#111" textLength="134" lengthAdjust="spacingAndGlyphs">3.4. Subsistema</text>
<text x="98" y="338" font-size="20" fill="#111" textLength="130" lengthAdjust="spacingAndGlyphs">de operaciones</text>
<use href="#diag" transform="translate(-77.2,225.8) scale(.2405)"/>
<path d="M347,296.7h8M351,293v7.5" stroke="#8aa0f0" stroke-width="1"/><circle cx="369.7" cy="294.7" r="1.3" fill="#2f50ee"/><circle cx="376" cy="311" r="1.5" fill="none" stroke="#6c84ee"/>

<rect x="73" y="510" width="322" height="182" rx="13" fill="#fff" stroke="#c0c7da" stroke-width="2"/>
<text class="num" x="33" y="530" textLength="24" lengthAdjust="spacingAndGlyphs">48</text>
<text x="90" y="538" font-size="25" font-weight="bold" fill="#333" textLength="162" lengthAdjust="spacingAndGlyphs">Subsistema de</text>
<text x="90" y="568" font-size="25" font-weight="bold" fill="#333" textLength="278" lengthAdjust="spacingAndGlyphs">operaciones: relaciona l...</text>
<path d="M229,599h5v-15h5" fill="none" stroke="#b4bdd2" stroke-width="2.5"/>
<rect x="210" y="590" width="19" height="18.5" rx="4" fill="#545f7d"/><rect x="239" y="576" width="19" height="19" rx="4" fill="#545f7d"/><rect x="239" y="603" width="19" height="19" rx="4" fill="#b4bdd2"/>
<path d="M243.5,585.5l3.5,3.5l6,-7" fill="none" stroke="#fff" stroke-width="2"/>
<text x="142" y="651" font-size="26" fill="#333" textLength="184" lengthAdjust="spacingAndGlyphs">Quiz: Match Pairs</text>
<g fill="#999"><circle cx="41.7" cy="671" r="2.5"/><circle cx="41.7" cy="677.5" r="2.5"/><circle cx="41.7" cy="684" r="2.5"/></g>

<rect x="73" y="738" width="322" height="182" rx="13" fill="#fff" stroke="#c0c7da" stroke-width="2"/>
<text class="num" x="33" y="758" textLength="24" lengthAdjust="spacingAndGlyphs">49</text>
<text x="166" y="850" font-size="25" fill="#333" textLength="135" lengthAdjust="spacingAndGlyphs">Leaderboard</text>
<g fill="#999"><circle cx="41.7" cy="899" r="2.5"/><circle cx="41.7" cy="905.5" r="2.5"/><circle cx="41.7" cy="912" r="2.5"/></g>

<rect x="73" y="967" width="322" height="180" rx="13" fill="#fff" stroke="#c0c7da" stroke-width="2"/>
<text class="num" x="33" y="986" textLength="24" lengthAdjust="spacingAndGlyphs">50</text>
<rect x="91" y="975" width="2" height="170" fill="url(#gl)"/>
<text x="98" y="994" font-size="15" font-weight="bold" fill="#111" textLength="200" lengthAdjust="spacingAndGlyphs">EL CONCEPTO DE CONTROL</text>
<rect x="131" y="1022.5" width="22" height="7" fill="#f6f320"/><text x="142" y="1029" font-size="6" fill="#333" text-anchor="middle" textLength="21" lengthAdjust="spacingAndGlyphs">INPUTS</text>
<rect x="120" y="1030" width="43" height="21" rx="2" fill="#fff" stroke="#aaa"/><text x="141" y="1044" font-size="6" fill="#333" text-anchor="middle">Entorno</text>
<rect x="191" y="1027" width="59" height="36" rx="3" fill="#2f45f0"/><g font-size="6" fill="#ddd" text-anchor="middle"><text x="221" y="1040">EMPRESA</text><text x="220" y="1048">Proceso de</text><text x="221" y="1055">Transformación</text></g>
<rect x="292" y="1023" width="29" height="7" fill="#f6f320"/><text x="306" y="1029.5" font-size="6" fill="#333" text-anchor="middle" textLength="28" lengthAdjust="spacingAndGlyphs">OUTPUTS</text>
<rect x="287" y="1031" width="39" height="21" rx="2" fill="#fff" stroke="#aaa"/><text x="306" y="1044" font-size="6" fill="#333" text-anchor="middle">Entorno</text>
<rect x="250" y="1082" width="42" height="20" rx="2" fill="#f088b3"/><text x="271" y="1095" font-size="6" font-weight="bold" fill="#222" text-anchor="middle">Control</text>
<path d="M163,1041h26M250,1041h37M268,1041v38.5M268,1102v18h-16M166,1119h19M166,1119v-74" fill="none" stroke="#1a2f80" stroke-width="1"/>
<text x="188" y="1121.5" font-size="5.5" fill="#5a3ef0" textLength="59" lengthAdjust="spacingAndGlyphs">RETROALIMENTACIÓN</text>
<text x="193" y="1139" font-size="4.5" fill="#3550c8" textLength="80" lengthAdjust="spacingAndGlyphs">T1 - INTRODUCCIÓN A LA EMPRESA</text><text x="364" y="1139" font-size="4.5" fill="#3550c8">15</text>
<g fill="#999"><circle cx="41.7" cy="1132" r="2.5"/><circle cx="41.7" cy="1139" r="2.5"/><circle cx="41.7" cy="1146" r="2.5"/></g>

<rect x="73" y="1195" width="322" height="80" rx="13" fill="#fff" stroke="#c0c7da" stroke-width="2"/>
<text class="num" x="33" y="1214" textLength="24" lengthAdjust="spacingAndGlyphs">51</text>
<text x="89" y="1224" font-size="25" font-weight="bold" fill="#333" textLength="209" lengthAdjust="spacingAndGlyphs">¿A qué subsistema</text>
<text x="89" y="1254" font-size="25" font-weight="bold" fill="#333" textLength="270" lengthAdjust="spacingAndGlyphs">pertenece la función de...</text>
</g>
<rect x="426" y="840" width="16" height="50" rx="8" fill="#c6c6c6"/>

<!-- grid view -->
<rect x="0" y="1237" width="448" height="99" fill="#fff"/><rect x="0" y="1236" width="448" height="2" fill="#ebecef"/>
<g fill="#4e8bf0"><rect x="130" y="1272" width="17" height="15" rx="2"/><rect x="149" y="1272" width="17" height="15" rx="2"/><rect x="130" y="1289" width="17" height="15" rx="2"/><rect x="149" y="1289" width="17" height="15" rx="2"/></g>
<text x="194" y="1301" font-size="28" fill="#555" textLength="123" lengthAdjust="spacingAndGlyphs">Grid View</text>

<!-- slide -->
<rect x="624.5" y="231" width="1333.5" height="752" rx="14" fill="#fff" stroke="#e2e4e9" stroke-width="2.5"/>
<rect x="701" y="269" width="4" height="713" fill="url(#gl)"/>
<path d="M625.5,292V245a14,14 0 0 1 14,-13H1943a14,14 0 0 1 14,13V292z" fill="#f5f5f6" fill-opacity=".88"/>
<text x="1034" y="272" font-size="29" fill="#2a3140" textLength="150" lengthAdjust="spacingAndGlyphs">Únete, ve a:</text>
<text x="1190.5" y="272" font-size="26" font-weight="bold" fill="#2a3140" textLength="315.5">ahaslides.com/JTDSQ</text>
<g fill="none" stroke-width="7"><path d="M1778,261a10,10 0 0 1 8,-10" stroke="#4f8ef2"/><path d="M1789,251a10,10 0 0 1 8,6" stroke="#d96b6b"/><path d="M1778,264a10,10 0 0 0 8,9" stroke="#67c27e"/><path d="M1789,273a10,10 0 0 0 9,-10" stroke="#f2b84c"/></g>
<text x="1809" y="271" font-size="27" font-weight="bold" fill="#4b515e" textLength="127" lengthAdjust="spacingAndGlyphs">AhaSlides</text>
<text x="729" y="383" font-size="75" fill="#000" textLength="556" lengthAdjust="spacingAndGlyphs">3.4. Subsistema</text>
<text x="731" y="465" font-size="75" fill="#000" textLength="535" lengthAdjust="spacingAndGlyphs">de operaciones</text>
<path d="M1776,294h12M1782,288v12" stroke="#3a5cf0" stroke-width="2"/>
<circle cx="1859" cy="285" r="4" fill="#b4a6ef"/>
<circle cx="1886" cy="354.7" r="5" fill="none" stroke="#2f50ee" stroke-width="2"/>
<use href="#diag"/>
<circle cx="1831.6" cy="942.3" r="9" fill="#333"/><text x="1831.6" y="948" font-size="15" font-weight="bold" fill="#fff" text-anchor="middle">?</text>
<text x="1844.5" y="948" font-size="18" fill="#444">0</text>
<circle cx="1873" cy="937" r="5" fill="#333"/><path d="M1864,951q0,-9 9,-9t9,9z" fill="#333"/><circle cx="1881" cy="938" r="4" fill="#999"/>
<text x="1888" y="948" font-size="18" fill="#444">0</text>
<text x="1901" y="948" font-size="13" fill="#777" textLength="27">/200</text>

<!-- below slide -->
<text x="896.6" y="1036" font-size="26" fill="#8a8d94" textLength="213" lengthAdjust="spacingAndGlyphs">You can host up to</text>
<text x="1118" y="1036" font-size="26" font-weight="bold" fill="#666a72" textLength="46.5" lengthAdjust="spacingAndGlyphs">200</text>
<text x="1172" y="1036" font-size="26" fill="#8a8d94" textLength="336" lengthAdjust="spacingAndGlyphs">live participants. Need more?</text>
<text x="1517" y="1036" font-size="26" font-weight="bold" fill="#4e8bf0" textLength="163" lengthAdjust="spacingAndGlyphs">Upgrade now</text>
<text x="1681" y="1036" font-size="26" fill="#8a8d94">.</text>

<rect x="987.7" y="1080" width="328.3" height="72" rx="32" fill="#d5d8e2"/><rect x="987.7" y="1072" width="328.3" height="72" rx="32" fill="#fff"/>
<rect x="1013.8" y="1084" width="48.8" height="48" rx="12" fill="#62bf7c"/><rect x="1029" y="1091" width="18" height="34" rx="3" fill="#fff"/><rect x="1032" y="1095" width="12" height="22" fill="#62bf7c"/><circle cx="1038" cy="1121" r="1.5" fill="#62bf7c"/>
<text x="1082" y="1116.7" font-size="28" font-weight="bold" fill="#2a3140" textLength="211.6" lengthAdjust="spacingAndGlyphs">Participant view</text>
<rect x="1333.7" y="1080" width="263.3" height="72" rx="32" fill="#d5d8e2"/><rect x="1333.7" y="1072" width="263.3" height="72" rx="32" fill="#fff"/>
<path d="M1379,1099a12,12 0 1 0 2,15" fill="none" stroke="#2a3140" stroke-width="4"/><path d="M1382,1092v13h-12z" fill="#2a3140"/>
<text x="1405" y="1116.7" font-size="28" font-weight="bold" fill="#2a3140" textLength="169.5" lengthAdjust="spacingAndGlyphs">Reset results</text>

<!-- notes -->
<rect x="449" y="1176" width="1685" height="160" fill="#fff"/><rect x="449" y="1176" width="1685" height="2.5" fill="#ebecef"/>
<rect x="2102" y="1178" width="1.5" height="158" fill="#ededf0"/>
<rect x="2110" y="1179" width="17" height="36" rx="8" fill="#c6c6c6"/>
<text class="nt" x="476" y="1220" textLength="1569" lengthAdjust="spacingAndGlyphs">Su misión es la obtención de los bienes y servIcios para satisfacer las necesidades detectadas por el subsistema comercial y/o</text>
<text class="nt" x="476" y="1256" textLength="808" lengthAdjust="spacingAndGlyphs">las generadas por el departamento de investigación y desarrollo.</text>
<text class="nt" x="476" y="1292" textLength="1287" lengthAdjust="spacingAndGlyphs">Siempre se da una conversión = producción de inputs (recursos, factores) en outputs (bienes, servicios).</text>
<g clip-path="url(#cn)"><text class="nt" x="476" y="1328" textLength="1222" lengthAdjust="spacingAndGlyphs">El proceso de dirección y gestión de operaciones comienza definiendo los &gt;objetivos a largo plazo</text></g>
<text x="1698" y="1330" font-size="24" fill="#777" textLength="244" lengthAdjust="spacingAndGlyphs">Notes will be shown in</text>
<text x="1950" y="1330" font-size="24" fill="#4e8bf0" textLength="110" lengthAdjust="spacingAndGlyphs" text-decoration="underline">Backstage</text>
<path d="M2087,1318h-11v17h14v-9M2082,1327l10,-12M2086,1314h7v7" fill="none" stroke="#bbb" stroke-width="2"/>

<!-- bottom fade & corners -->
<rect x="0" y="1292" width="2880" height="44" fill="url(#fd)"/>
<path d="M0,1322v14h14a14,14 0 0 1 -14,-14z" fill="#d6d6d6"/>
<path d="M2880,1322v14h-14a14,14 0 0 0 14,-14z" fill="#d6d6d6"/>
</svg>
</body></html>
